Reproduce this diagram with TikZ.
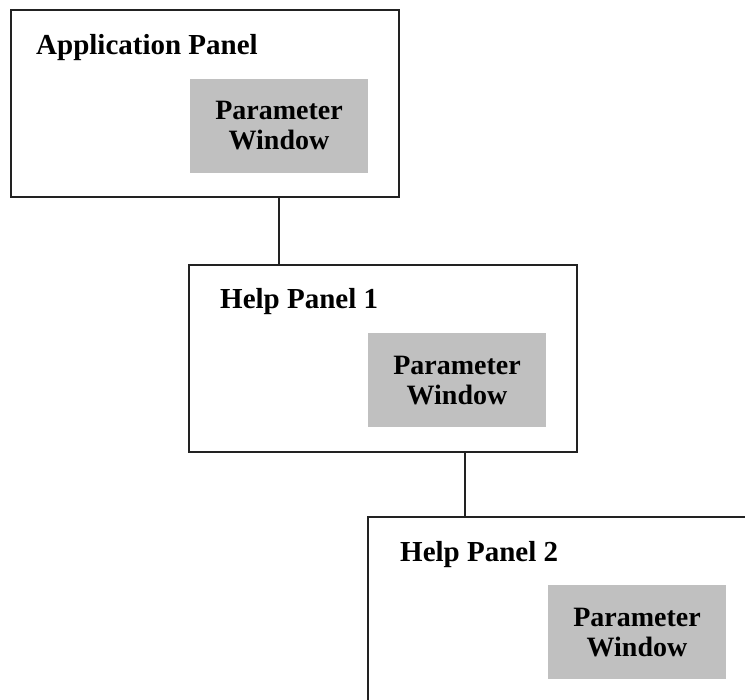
\documentclass[tikz,border=0pt]{standalone}
\usepackage{fontspec}
\setmainfont{Liberation Serif}
\definecolor{pwgrey}{HTML}{C0C0C0}
\definecolor{edge}{HTML}{222222}
\begin{document}
\begin{tikzpicture}[x=1pt,y=1pt,
  panel/.style={draw=edge, line width=2pt, minimum width=388pt, minimum height=187pt, inner sep=0pt},
  pwin/.style={fill=pwgrey, minimum width=178pt, minimum height=94pt, inner sep=0pt, align=center,
    font=\fontsize{28}{30}\selectfont\bfseries},
  ptitle/.style={anchor=base west, inner sep=0pt, font=\fontsize{29}{30}\selectfont\bfseries},
  link/.style={draw=edge, line width=2pt}]
\useasboundingbox (0,0) rectangle (745,700);
\clip (0,0) rectangle (745,700);
% panels
\node[panel] (p1) at (205,596) {};
\node[panel] (p2) at (383,341.5) {};
\node[panel] (p3) at (562,89.5) {};
% titles
\node[ptitle] (t1) at (36,645) {Application Panel};
\node[ptitle] (t2) at (220,391) {Help Panel 1};
\node[ptitle] (t3) at (400,138) {Help Panel 2};
% parameter windows
\node[pwin] (w1) at (279,574) {Parameter\\Window};
\node[pwin] (w2) at (457,319.5) {Parameter\\Window};
\node[pwin] (w3) at (637,67.5) {Parameter\\Window};
% connectors
\draw[link] ([xshift=74pt]p1.south) -- ([xshift=74pt]p1.south |- p2.north);
\draw[link] ([xshift=82pt]p2.south) -- ([xshift=82pt]p2.south |- p3.north);
\end{tikzpicture}
\end{document}
